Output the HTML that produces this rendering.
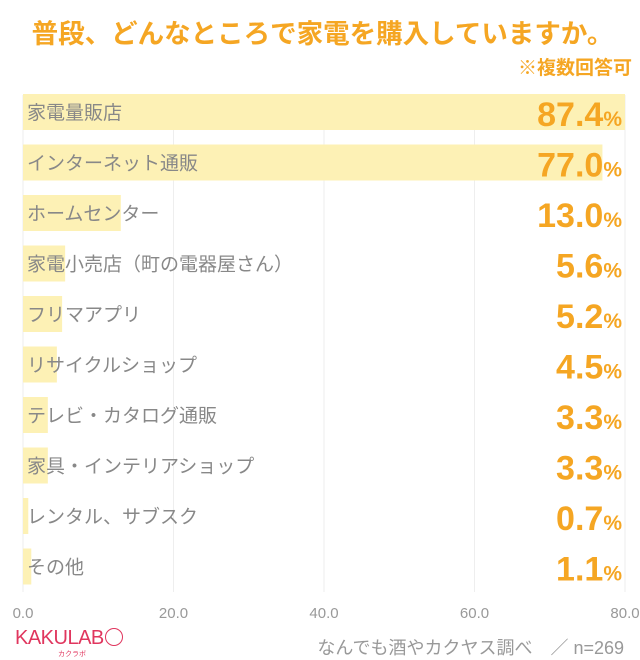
<!DOCTYPE html>
<html><head><meta charset="utf-8"><style>
body{margin:0;width:640px;height:658px;background:#fff;font-family:"Liberation Sans","Noto Sans CJK JP",sans-serif;position:relative;overflow:hidden}
.t{position:absolute;white-space:nowrap}
</style></head><body>
<div class="t" style="left:0;width:645px;text-align:center;top:12px;font-size:26.5px;font-weight:bold;color:#f5a623">普段、どんなところで家電を購入していますか。</div>
<div class="t" style="right:8px;top:53px;font-size:19px;font-weight:bold;color:#f5a623">※複数回答可</div>
<svg id="c" width="640" height="658" style="position:absolute;left:0;top:0"></svg>
<div class="t" style="left:15px;top:627px;font-size:20px;color:#e0365e;letter-spacing:-0.5px">KAKULAB<span style="display:inline-block;width:16px;height:16px;border:1.5px solid #e0365e;border-radius:50%;vertical-align:-2px;margin-left:1px"></span></div>
<div class="t" style="left:58px;top:649px;font-size:7px;color:#e0365e">カクラボ</div>
<div class="t" style="right:16px;top:634px;font-size:18px;color:#999">なんでも酒やカクヤス調べ　／ n=269</div>
<script>
const categories=["家電量販店","インターネット通販","ホームセンター","家電小売店（町の電器屋さん）","フリマアプリ","リサイクルショップ","テレビ・カタログ通販","家具・インテリアショップ","レンタル、サブスク","その他"];
const values=[87.4,77.0,13.0,5.6,5.2,4.5,3.3,3.3,0.7,1.1];
const ticks=[0,20,40,60,80];
const NS="http://www.w3.org/2000/svg",svg=document.getElementById('c');
const x0=23,x1=625,xmax=80;
const x=v=>x0+Math.min(v,xmax)/xmax*(x1-x0);
const y=i=>112+i*50.5;
function mk(t,a){const e=document.createElementNS(NS,t);for(const k in a)e.setAttribute(k,a[k]);svg.appendChild(e);return e;}
ticks.forEach(t=>{
 const g=mk('line',{x1:x(t),x2:x(t),y1:95,y2:592,stroke:'#eeeeee','stroke-width':1});
 
 
 const l=mk('text',{x:x(t),y:618,'text-anchor':'middle','font-size':15,fill:'#999'});
 l.textContent=t.toFixed(1);
 
 
});
categories.forEach((c,i)=>{
 const b=mk('rect',{x:x0,y:y(i)-18,width:x(values[i])-x0,height:36,fill:'#fdf1b5'});
 
 
 const l=mk('text',{x:27,y:y(i)+7,'font-size':19,fill:'#888'});
 l.textContent=c;
 
 
 const v=mk('text',{x:622,y:y(i)+14,'text-anchor':'end',fill:'#f5a623','font-weight':'bold','font-size':34,'textLength':0});
 v.removeAttribute('textLength');
 v.innerHTML=values[i].toFixed(1)+'<tspan font-size="21">%</tspan>';
 
 
});
</script>
</body></html>
